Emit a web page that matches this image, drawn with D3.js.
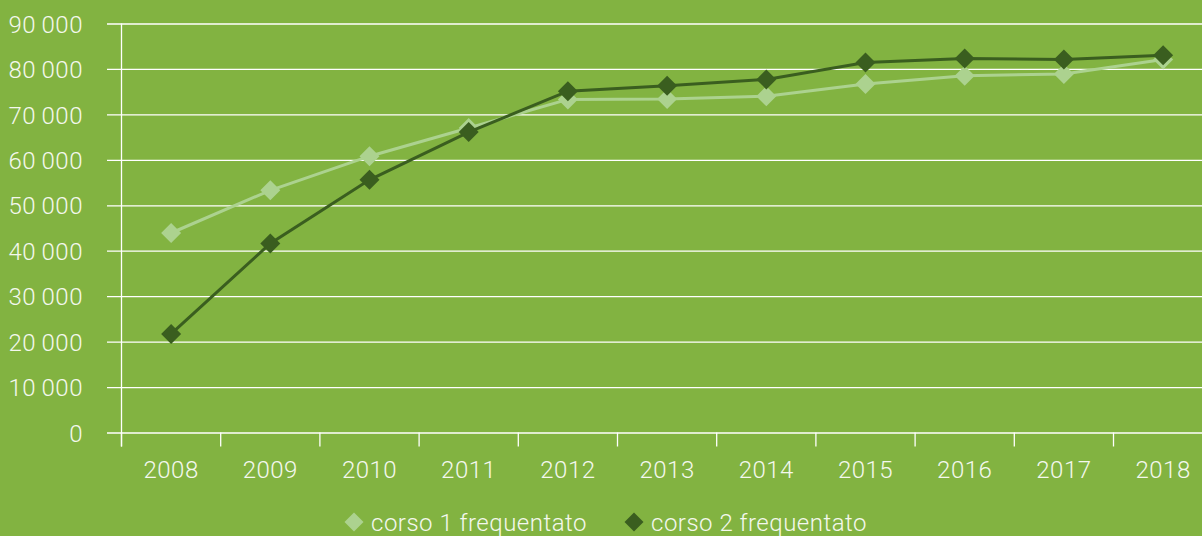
<!DOCTYPE html>
<html>
<head>
<meta charset="utf-8">
<script src="https://cdn.jsdelivr.net/npm/d3@7"></script>
<style>
  html, body { margin: 0; padding: 0; background: #82b341; overflow: hidden; }
  text { font-family: Roboto, "Liberation Sans", sans-serif; font-weight: 300; fill: #f4f8ee; letter-spacing: 0.5px; }
</style>
</head>
<body>
<div id="chart"></div>
<script>
// chart defaults
const width = 1202
const height = 536
const bgColor = "#82b341"
const lightColor = "#acd28f"
const darkColor = "#3a5e1f"

// data
const years = ["2008", "2009", "2010", "2011", "2012", "2013", "2014", "2015", "2016", "2017", "2018"]
const corso1 = [43900, 53300, 60800, 67000, 73300, 73400, 74000, 76700, 78500, 78900, 82100]
const corso2 = [21700, 41600, 55600, 66100, 75100, 76300, 77700, 81400, 82300, 82100, 83000]
const yTicks = [0, 10000, 20000, 30000, 40000, 50000, 60000, 70000, 80000, 90000]
const seriesNames = ["corso 1 frequentato", "corso 2 frequentato"]

const svg = d3.select("#chart")
  .append("svg")
  .attr("width", width)
  .attr("height", height)

svg.append("rect")
  .attr("width", width)
  .attr("height", height)
  .attr("fill", bgColor)

const xScale = d3.scaleBand()
  .domain(years)
  .range([121.5, 121.5 + 11 * 99.2])

const yScale = d3.scaleLinear()
  .domain([0, 90000])
  .range([432.5, 23.5])

// numbers like "90 000" with a thin space
const fmt = function (v) {
  return d3.format(",")(v).replace(/,/g, "\u2009")
}

// y axis: gridlines run across the whole plot, ticks stick out left
const yAxis = d3.axisLeft(yScale)
  .tickValues(yTicks)
  .tickFormat(fmt)
  .tickSize(-(width - 107))
  .tickPadding(24)

const gy = svg.append("g")
  .attr("transform", "translate(107,0)")
  .call(yAxis)
gy.select(".domain").remove()
gy.selectAll(".tick line").attr("stroke", "#ffffff").attr("stroke-width", 1.3)
gy.selectAll(".tick text").style("font-size", "24px").attr("dy", "0.36em")

// vertical axis line
svg.append("line")
  .attr("x1", 121.5).attr("x2", 121.5)
  .attr("y1", yScale(90000)).attr("y2", 446.5)
  .attr("stroke", "#ffffff").attr("stroke-width", 1.3)

// x axis with tick marks between categories
const xAxis = d3.axisBottom(xScale)
  .tickSize(0)
  .tickPadding(28)

const gx = svg.append("g")
  .attr("transform", "translate(0," + yScale(0) + ")")
  .call(xAxis)
gx.select(".domain").remove()
gx.selectAll(".tick text").style("font-size", "24px")

svg.append("g")
  .selectAll("line")
  .data(years)
  .enter()
  .append("line")
  .attr("x1", d => xScale(d))
  .attr("x2", d => xScale(d))
  .attr("y1", yScale(0))
  .attr("y2", 446.5)
  .attr("stroke", "#ffffff").attr("stroke-width", 1.3)

const cx = d => xScale(d) + xScale.bandwidth() / 2
const diamond = function (x, y, r) {
  return "M" + x + "," + (y - r) + "L" + (x + r) + "," + y + "L" + x + "," + (y + r) + "L" + (x - r) + "," + y + "Z"
}

const drawSeries = function (values, color) {
  const line = d3.line()
    .x((d, i) => cx(years[i]))
    .y(d => yScale(d))

  svg.append("path")
    .datum(values)
    .attr("d", line)
    .attr("fill", "none")
    .attr("stroke", color)
    .attr("stroke-width", 3)

  svg.append("g")
    .selectAll("path")
    .data(values)
    .enter()
    .append("path")
    .attr("d", (d, i) => diamond(cx(years[i]), yScale(d), 10))
    .attr("fill", color)
}

drawSeries(corso1, lightColor)
drawSeries(corso2, darkColor)

// legend
const legendX = [354, 634]
const legendColors = [lightColor, darkColor]
const legend = svg.append("g")
seriesNames.forEach(function (name, i) {
  legend.append("path")
    .attr("d", diamond(legendX[i], 522, 9.5))
    .attr("fill", legendColors[i])
  legend.append("text")
    .attr("x", legendX[i] + 17)
    .attr("y", 522)
    .attr("dy", "0.36em")
    .style("font-size", "24px")
    .text(name)
})
</script>
</body>
</html>
